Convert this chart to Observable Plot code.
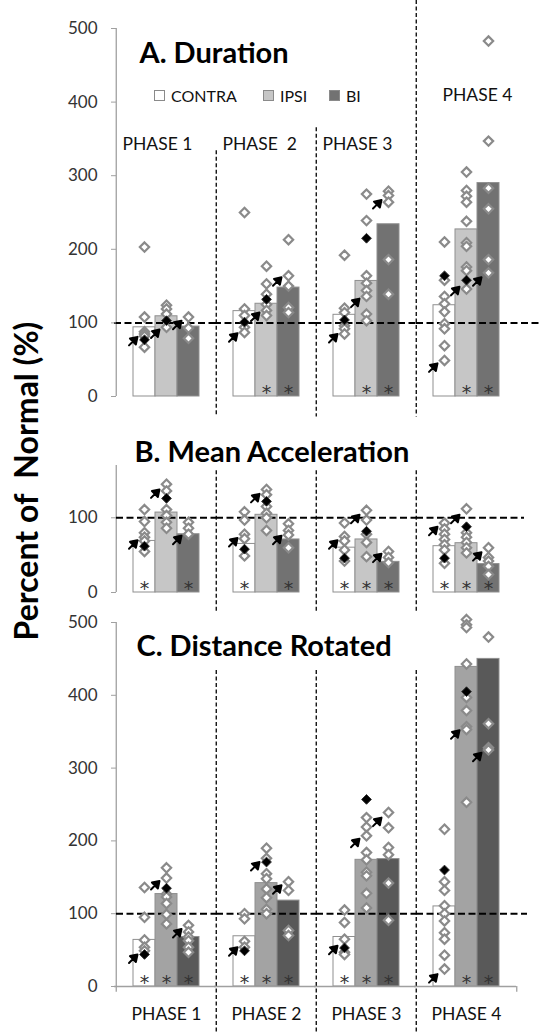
<!DOCTYPE html>
<html><head><meta charset="utf-8">
<script src="https://cdn.jsdelivr.net/npm/d3@7"></script>
<script src="https://cdn.jsdelivr.net/npm/@observablehq/plot@0.6"></script>
<style>
body{margin:0;background:#fff;font-family:Lato,"Open Sans",sans-serif;}
#wrap{position:relative;width:543px;height:1033px;overflow:hidden;}
#wrap svg{display:block;}
#ylabel{position:absolute;left:26px;top:481px;transform:translate(-50%,-50%) rotate(-90deg);white-space:pre;font-weight:700;font-size:32px;line-height:1;color:#000;}
#legend{position:absolute;top:86px;left:0;height:20px;font-size:16px;color:#111;}
#legend span.item{position:absolute;white-space:nowrap;display:flex;align-items:center;}
#legend i{display:inline-block;width:9px;height:9px;border:1px solid #8a8a8a;margin-right:6px;}
</style></head><body><div id="wrap"></div>
<script>
const phases = ["PHASE 1","PHASE 2","PHASE 3","PHASE 4"];
const groups = ["CONTRA","IPSI","BI"];
const phaseLabelsA = ["PHASE 1","PHASE  2","PHASE 3","PHASE 4"];
const yAxisTitle = "Percent of  Normal (%)";

// A. Duration
const durationMeans = [[94,109,95],[116,126,148],[111,157,234],[124,227,290]];
const durationSubjects = [
 [[203,108,88,85,82,67],[124,119,112,94],[108,93,79]],
 [[250,119,110,94,87],[177,153,139,125,117,110],[213,164,150,121,114]],
 [[192,120,114,96,92,85],[275,239,164,154,144,136,112,103],[279,273,264,186,139]],
 [[210,158,136,126,115,99,92,69,49],[305,280,272,264,238,209,204,176,171,146],[483,347,283,255,186,168]]
];
const durationHighlighted = [[77,103,null],[101,132,null],[104,215,null],[164,158,null]];
const durationArrowed = [[81,91,103],[86,114,162],[85,133,267],[45,149,162]];
const durationSignificant = [[],["IPSI","BI"],["IPSI","BI"],["IPSI","BI"]];

// B. Mean Acceleration
const accelMeans = [[69,107,78],[65,104,71],[60,71,41],[62,66,38]];
const accelSubjects = [
 [[111,95,80,74,69,55],[145,136,111,103,94,86],[94,86,78]],
 [[108,97,78,72,49],[138,131,115,106,100,83],[92,83,77,60]],
 [[93,75,69,57,42],[110,97,78,67,48],[55,47,40]],
 [[93,85,78,71,64,57,39],[112,80,74,67,60,53],[60,47,42,35,24]]
];
const accelHighlighted = [[62,126,null],[58,122,null],[46,82,null],[46,88,null]];
const accelArrowed = [[70,138,76],[73,132,76],[70,104,52],[88,104,54]];
const accelSignificant = [["CONTRA","BI"],["CONTRA","BI"],["CONTRA","IPSI","BI"],["CONTRA","IPSI","BI"]];

// C. Distance Rotated
const rotMeans = [[64,127,68],[69,142,118],[68,174,175],[110,439,450]];
const rotSubjects = [
 [[136,95,64,54,49],[163,149,127,123,114,99,86],[84,75,68,63,54,47]],
 [[100,93,62,54],[190,176,155,148,134,122,106,100],[144,132,77,70]],
 [[105,88,65,47,44],[232,219,207,184,174,157,152,128,108],[239,218,191,181,142,91]],
 [[216,144,132,111,100,90,74,65,43,24],[504,497,493,443,397,379,357,353,253],[480,361,328,325]]
];
const rotHighlighted = [[44,135,null],[49,171,null],[53,257,null],[160,405,null]];
const rotArrowed = [[44,145,79],[54,171,139],[56,203,232],[17,352,321]];
const rotSignificant = [["CONTRA","IPSI","BI"],["CONTRA","IPSI","BI"],["CONTRA","IPSI","BI"],["IPSI","BI"]];

const longMeans = m => m.flatMap((row,i)=>row.map((v,j)=>({phase:phases[i],group:groups[j],value:v}))).filter(d=>d.value!=null);
const longPts = m => m.flatMap((row,i)=>row.flatMap((vals,j)=>vals.map(v=>({phase:phases[i],group:groups[j],value:v}))));
const longSig = m => m.flatMap((gs,i)=>gs.map(g=>({phase:phases[i],group:g})));

const W = 543, mL = 115, mR = 26;
const phaseW = (W - mL - mR) / 4;

const arrowShape = {
  draw(ctx, l) {
    const h = 6.5, w = 4.2;
    ctx.moveTo(0, 0); ctx.lineTo(0, -l + h);
    ctx.moveTo(-w, -l + h); ctx.lineTo(0, -l); ctx.lineTo(w, -l + h); ctx.closePath();
  }
};

function panel(c) {
  const marks = [
    Plot.barY(longMeans(c.means), {fx:"phase", x:"group", y:"value", fill:"group", stroke:"#8f8f8f", strokeWidth:1}),
    Plot.ruleX(phases.slice(1), {fx:d=>d, x:null, dx:-phaseW/2, y1:d=>c.dividerTop[phases.indexOf(d)], y2:()=>c.dividerBottom, stroke:"#000", strokeWidth:1.3, strokeDasharray:"4,2.5"}),
    Plot.ruleX([phases[0]], {fx:d=>d, x:null, dx:-phaseW/2, y1:()=>c.axisBottom, y2:()=>c.yMax, stroke:"#a0a0a0", strokeWidth:1.3}),
  ];
  if (c.xAxisLine) {
    marks.push(Plot.ruleY(phases, {fx:d=>d, y:()=>0, stroke:"#a0a0a0", strokeWidth:1.3, insetLeft:-2}));
    marks.push(Plot.ruleX([phases[3]], {fx:d=>d, x:null, dx:phaseW/2, y1:()=>0, y2:()=>c.axisBottom, stroke:"#a0a0a0", strokeWidth:1.3}));
  }
  marks.push(
    Plot.ruleY(phases.slice(0,3), {fx:d=>d, y:()=>100, stroke:"#000", strokeWidth:2, strokeDasharray:"7,3.5", insetLeft:c.lineLeft}),
    Plot.ruleY([phases[3]], {fx:d=>d, y:()=>100, stroke:"#000", strokeWidth:2, strokeDasharray:"7,3.5", insetRight:c.lineRight}),
    Plot.axisY(c.ticks, {tickSize:5, tickPadding:14, fontSize:17, stroke:"#a0a0a0", fill:"#333", label:null}),
    Plot.dot(longPts(c.subjects), {fx:"phase", x:"group", y:"value", symbol:"diamond2", r:4.2, fill:"white", stroke:"#8a8a8a", strokeWidth:2.2}),
    Plot.dot(longMeans(c.highlighted), {fx:"phase", x:"group", y:"value", symbol:"diamond2", r:4.4, fill:"#000", stroke:"#333", strokeWidth:1}),
    Plot.vector(longMeans(c.arrowed), {fx:"phase", x:"group", y:"value", rotate:45, length:12, anchor:"end", dx:-7, shape:arrowShape, fill:"#000", stroke:"#000", strokeWidth:2}),
    Plot.text(longSig(c.significant), {fx:"phase", x:"group", y:()=>0, text:()=>"*", lineAnchor:"bottom", fontSize:19, fontFamily:"'DejaVu Sans', sans-serif", fill:"#333", dy:2}),
    Plot.text([c.title], {fx:()=>phases[0], frameAnchor:"top-left", textAnchor:"start", lineAnchor:"bottom", dx:c.titleDx, dy:c.titleDy, fontSize:29, fontWeight:700, fill:"#000"})
  );
  if (c.labelsInside) {
    const lab = phaseLabelsA.map((t,i)=>({phase:phases[i], t}));
    marks.push(
      Plot.text(lab.slice(0,3), {fx:"phase", text:"t", frameAnchor:"top-left", textAnchor:"start", lineAnchor:"bottom", dx:6, dy:121, fontSize:17.5, fill:"#111"}),
      Plot.text(lab.slice(3), {fx:"phase", text:"t", frameAnchor:"top-left", textAnchor:"start", lineAnchor:"bottom", dx:26, dy:72, fontSize:17.5, fill:"#111"})
    );
  }
  if (c.labelsBelow) {
    marks.push(Plot.text(phases, {fx:d=>d, text:d=>d, frameAnchor:"bottom", lineAnchor:"bottom", dy:33, fontSize:17.5, fill:"#111"}));
  }
  return Plot.plot({
    width: W, height: c.height,
    marginLeft: mL, marginRight: mR, marginTop: c.mTop, marginBottom: c.mBottom,
    style: {fontFamily: "Lato, 'Open Sans', sans-serif", fontSize: "17px", background: "transparent", overflow: "visible"},
    fx: {domain: phases, padding: 0, axis: null},
    x: {domain: groups, paddingInner: 0, paddingOuter: 0.75, align: 0.5, axis: null},
    y: {domain: [0, c.yMax]},
    color: {domain: groups, range: ["#ffffff", c.ipsiFill, c.biFill]},
    marks
  });
}

const wrap = document.getElementById("wrap");
wrap.append(panel({
  means: durationMeans, subjects: durationSubjects, highlighted: durationHighlighted, arrowed: durationArrowed, significant: durationSignificant,
  height: 420, mTop: 28, mBottom: 24, yMax: 500, ticks: [0,100,200,300,400,500],
  ipsiFill: "#c6c6c6", biFill: "#727272",
  dividerTop: [null, 334, 365, 538], dividerBottom: -28, axisBottom: 0, lineLeft: -2, lineRight: -23,
  title: "A. Duration", titleDx: 23, titleDy: 34, labelsInside: true
}));
wrap.append(panel({
  means: accelMeans, subjects: accelSubjects, highlighted: accelHighlighted, arrowed: accelArrowed, significant: accelSignificant,
  height: 192, mTop: 45, mBottom: 20, yMax: 170, ticks: [0,100],
  ipsiFill: "#c6c6c6", biFill: "#727272",
  dividerTop: [null, 163, 163, 163], dividerBottom: -27, axisBottom: 0, lineLeft: 0, lineRight: -8,
  title: "B. Mean Acceleration", titleDx: 18, titleDy: -4
}));
wrap.append(panel({
  means: rotMeans, subjects: rotSubjects, highlighted: rotHighlighted, arrowed: rotArrowed, significant: rotSignificant,
  height: 421, mTop: 10, mBottom: 47, yMax: 500, ticks: [0,100,200,300,400,500],
  ipsiFill: "#a3a3a3", biFill: "#595959",
  dividerTop: [null, 434, 434, 434], dividerBottom: -65, axisBottom: -8, lineLeft: 0, lineRight: -11,
  title: "C. Distance Rotated", titleDx: 20, titleDy: 33, xAxisLine: true, labelsBelow: true
}));

const yl = document.createElement("div");
yl.id = "ylabel"; yl.textContent = yAxisTitle;
wrap.append(yl);

const legend = document.createElement("div");
legend.id = "legend";
const legendX = [154, 263, 329];
groups.forEach((g, i) => {
  const s = document.createElement("span");
  s.className = "item"; s.style.left = legendX[i] + "px";
  const sw = document.createElement("i");
  sw.style.background = ["#ffffff", "#c6c6c6", "#727272"][i];
  s.append(sw, document.createTextNode(g));
  legend.append(s);
});
wrap.append(legend);
</script></body></html>
